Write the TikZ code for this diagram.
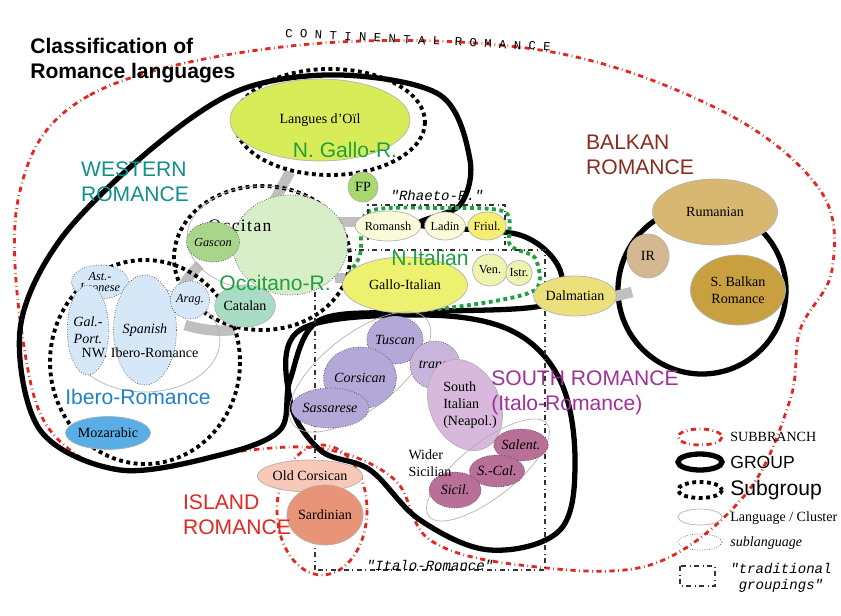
\documentclass[tikz,border=0pt]{standalone}
\usepackage{fontspec}
\setmainfont{Liberation Serif}
\setsansfont{Liberation Sans}
\setmonofont{Liberation Mono}
\usetikzlibrary{shapes.geometric, positioning}
\definecolor{teal1}{HTML}{10908A}
\definecolor{grn1}{HTML}{20A040}
\definecolor{blu1}{HTML}{2080C8}
\definecolor{pur1}{HTML}{A03098}
\definecolor{brn1}{HTML}{8A2A20}
\definecolor{red1}{HTML}{E02820}
\definecolor{oilc}{HTML}{D8EC5A}
\definecolor{fpc}{HTML}{A8D870}
\definecolor{occc}{HTML}{D8EEC8}
\definecolor{gasc}{HTML}{A8D48C}
\definecolor{catc}{HTML}{A8DCC4}
\definecolor{ibc}{HTML}{D6E8F8}
\definecolor{mozc}{HTML}{5AAEE6}
\definecolor{romc}{HTML}{FAFAD8}
\definecolor{fric}{HTML}{F6EE70}
\definecolor{galc}{HTML}{EEF070}
\definecolor{venc}{HTML}{EEF4B0}
\definecolor{dalc}{HTML}{ECE07A}
\definecolor{rumc}{HTML}{D8B870}
\definecolor{irc}{HTML}{D4B890}
\definecolor{sbkc}{HTML}{C8A040}
\definecolor{tusc}{HTML}{B4A8D8}
\definecolor{trac}{HTML}{C8B4DC}
\definecolor{sitc}{HTML}{D8B8DC}
\definecolor{sicc}{HTML}{B87098}
\definecolor{ococ}{HTML}{F8C8B8}
\definecolor{sarc}{HTML}{E89478}
\newcommand{\lng}[7]{\node[lang, fill=#6, minimum width=#4*0.02cm, minimum height=#5*0.02cm] (#1) at (#2,#3) {#7};}
\newcommand{\sublng}[7]{\node[sublang, fill=#6, minimum width=#4*0.02cm, minimum height=#5*0.02cm] (#1) at (#2,#3) {#7};}
\begin{document}
\begin{tikzpicture}[x=0.02cm, y=-0.02cm,
  lang/.style={ellipse, draw=gray!60, thin, inner sep=0pt, font=\footnotesize, align=center},
  sublang/.style={ellipse, draw=black!70, densely dotted, inner sep=0pt, font=\footnotesize\itshape, align=center},
  subgrp/.style={draw=black, dotted, line width=2.2pt},
  grp/.style={draw=black, line width=3pt},
  branch/.style={draw=red1, dash dot, line width=1.6pt},
  trad/.style={draw=black!80, dash dot, thick},
  link/.style={draw=gray!50, line width=6pt},
  grplabel/.style={font=\sffamily\large, align=left}]
\useasboundingbox (0,0) rectangle (841,615);
% branches
\draw[branch] plot[smooth cycle, tension=0.6] coordinates {(18,200) (90,95) (300,45) (540,50) (720,110) (820,190) (832,270) (800,330) (790,400) (745,495) (650,565) (520,565) (430,540) (395,480) (330,450) (250,450) (140,470) (70,450) (30,380)};
\draw[branch] (322,510) ellipse [x radius=45, y radius=65];
% groups
\draw[grp] plot[smooth cycle, tension=0.55] coordinates {(60,240) (150,150) (240,90) (340,75) (440,95) (470,160) (460,205) (420,225) (520,235) (560,270) (545,305) (420,312) (320,320) (290,380) (280,430) (220,455) (120,470) (40,430) (20,330)};
\draw[grp] plot[smooth cycle, tension=0.6] coordinates {(300,330) (420,315) (510,330) (560,380) (575,460) (560,530) (490,550) (420,520) (370,470) (320,450) (290,400)};
\draw[grp] (702,290) circle [radius=84];
% links
\draw[link] (290,172) -- (272,205);
\draw[link] (338,222) -- (372,222);
\draw[link] (335,278) -- (350,278);
\draw[link] (200,265) to[bend right=15] (178,300);
\draw[link] (185,325) to[bend right=10] (235,330);
\draw[link] (600,300) -- (632,292);
% subgroups
\draw[subgrp] (330,122) ellipse [x radius=95, y radius=53];
\draw[subgrp] (262,258) ellipse [x radius=88, y radius=72];
\draw[subgrp] (145,362) ellipse [x radius=95, y radius=102];
\draw[subgrp, draw=grn1] plot[smooth cycle, tension=0.5] coordinates {(345,290) (360,255) (368,212) (440,208) (505,212) (510,245) (535,258) (535,290) (470,305) (400,310)};
% traditional groupings
\draw[trad] (368,240) -- (368,205) -- (505,205) -- (505,245);
\draw[trad] (315,570) -- (315,250) -- (545,250) -- (545,570) -- cycle;
% languages
\lng{oil}{320}{120}{180}{82}{oilc}{Langues d'Oïl}
\lng{fp}{363}{187}{30}{30}{fpc}{FP}
\draw[lang] (262,238) ellipse [x radius=75, y radius=52];
\sublng{occ}{290}{245}{115}{100}{occc}{}
\node[font=\normalsize, inner sep=0pt] (occt) at (240,226) {\addfontfeature{LetterSpace=8}Occitan};
\sublng{gas}{213}{242}{40}{40}{gasc}{\scriptsize Gascon}
\lng{cat}{245}{306}{45}{42}{catc}{Catalan}
\draw[lang] (145,340) ellipse [x radius=75, y radius=52];
\sublng{ast}{100}{282}{42}{34}{ibc}{\scriptsize Ast.-\\[-3pt]\scriptsize Leonese}
\sublng{gal}{88}{330}{36}{90}{ibc}{Gal.-\\Port.}
\sublng{spa}{145}{330}{55}{110}{ibc}{Spanish}
\sublng{arag}{190}{300}{35}{38}{ibc}{\scriptsize Arag.}
\node[font=\footnotesize, inner sep=0pt] (nwib) at (140,353) {NW. Ibero-Romance};
\lng{moz}{108}{433}{65}{33}{mozc}{Mozarabic}
\lng{rom}{388}{226}{40}{30}{romc}{\scriptsize Romansh}
\lng{lad}{445}{226}{35}{28}{romc}{\scriptsize Ladin}
\lng{fri}{487}{226}{34}{28}{fric}{\scriptsize Friul.}
\lng{gallo}{405}{285}{125}{56}{galc}{Gallo-Italian}
\lng{ven}{490}{270}{35}{32}{venc}{\scriptsize Ven.}
\lng{istr}{519}{273}{25}{25}{venc}{\scriptsize Istr.}
\lng{dal}{575}{296}{65}{40}{dalc}{Dalmatian}
\lng{rum}{715}{212}{125}{66}{rumc}{Rumanian}
\lng{ir}{648}{256}{42}{44}{irc}{IR}
\lng{sbk}{738}{290}{95}{70}{sbkc}{S. Balkan\\Romance}
\node[lang, minimum width=3.4cm, minimum height=1.5cm, rotate=38] (tus-grp) at (360,372) {};
\sublng{tus}{395}{340}{50}{48}{tusc}{Tuscan}
\sublng{cor}{360}{378}{48}{62}{tusc}{Corsican}
\sublng{sas}{330}{408}{56}{40}{tusc}{Sassarese}
\sublng{tra}{435}{365}{50}{48}{trac}{trans.}
\node[lang, fill=sitc, minimum width=1.4cm, minimum height=1.9cm, rotate=25] (sit) at (465,405) {};
\node[font=\footnotesize, align=left, inner sep=0pt] (sitt) at (470,405) {South\\Italian\\(Neapol.)};
\node[lang, minimum width=3cm, minimum height=1.1cm, rotate=38] (wsic-grp) at (488,470) {};
\sublng{sal}{521}{445}{40}{32}{sicc}{Salent.}
\sublng{scal}{497}{471}{40}{32}{sicc}{S.-Cal.}
\sublng{sic}{455}{490}{52}{36}{sicc}{Sicil.}
\node[font=\footnotesize, align=left, inner sep=0pt] (wsic) at (430,463) {Wider\\Sicilian};
\lng{ocor}{310}{476}{58}{32}{ococ}{Old Corsican}
\lng{sard}{325}{515}{60}{60}{sarc}{Sardinian}
% labels
\node[font=\sffamily\bfseries\large, align=left, anchor=north west, inner sep=0pt] (title) at (30,38) {Classification of\\Romance languages};
\node[font=\ttfamily\scriptsize, rotate=-3, inner sep=0pt] (cont) at (418,40) {C O N T I N E N T A L \ R O M A N C E};
\node[grplabel, text=teal1, inner sep=0pt] (west) at (135,182) {WESTERN\\ROMANCE};
\node[grplabel, text=brn1, inner sep=0pt] (balk) at (640,155) {BALKAN\\ROMANCE};
\node[grplabel, text=pur1, inner sep=0pt] (south) at (585,393) {SOUTH ROMANCE\\(Italo-Romance)};
\node[grplabel, text=red1, inner sep=0pt] (isl) at (237,515) {ISLAND\\ROMANCE};
\node[font=\sffamily\large, text=grn1, inner sep=0pt] (ngr) at (345,150) {N. Gallo-R.};
\node[font=\sffamily\large, text=grn1, inner sep=0pt] (occr) at (275,283) {Occitano-R.};
\node[font=\sffamily\large, text=grn1, inner sep=0pt] (nit) at (430,258) {N.Italian};
\node[font=\sffamily\large, text=blu1, inner sep=0pt] (ibr) at (138,397) {Ibero-Romance};
\node[font=\ttfamily\itshape\footnotesize, inner sep=0pt] (rha) at (437,195) {"Rhaeto-R."};
\node[font=\ttfamily\itshape\footnotesize, inner sep=0pt] (ita) at (430,565) {"Italo-Romance"};
% legend
\draw[branch] (700,437) ellipse [x radius=22, y radius=8];
\draw[grp] (700,462) ellipse [x radius=22, y radius=8];
\draw[subgrp] (700,490) ellipse [x radius=22, y radius=8];
\draw[lang] (700,517) ellipse [x radius=22, y radius=8];
\draw[sublang] (700,542) ellipse [x radius=22, y radius=8];
\draw[trad] (680,566) rectangle (715,586);
\node[anchor=west, font=\footnotesize, inner sep=0pt] (l1) at (730,437) {SUBBRANCH};
\node[anchor=west, font=\sffamily, inner sep=0pt] (l2) at (730,462) {GROUP};
\node[anchor=west, font=\sffamily\large, inner sep=0pt] (l3) at (730,490) {Subgroup};
\node[anchor=west, font=\footnotesize, inner sep=0pt] (l4) at (730,518) {Language / Cluster};
\node[anchor=west, font=\footnotesize\itshape, inner sep=0pt] (l5) at (730,543) {sublanguage};
\node[anchor=west, font=\ttfamily\itshape\footnotesize, align=left, inner sep=0pt] (l6) at (730,578) {"traditional\\\ groupings"};
\end{tikzpicture}
\end{document}
